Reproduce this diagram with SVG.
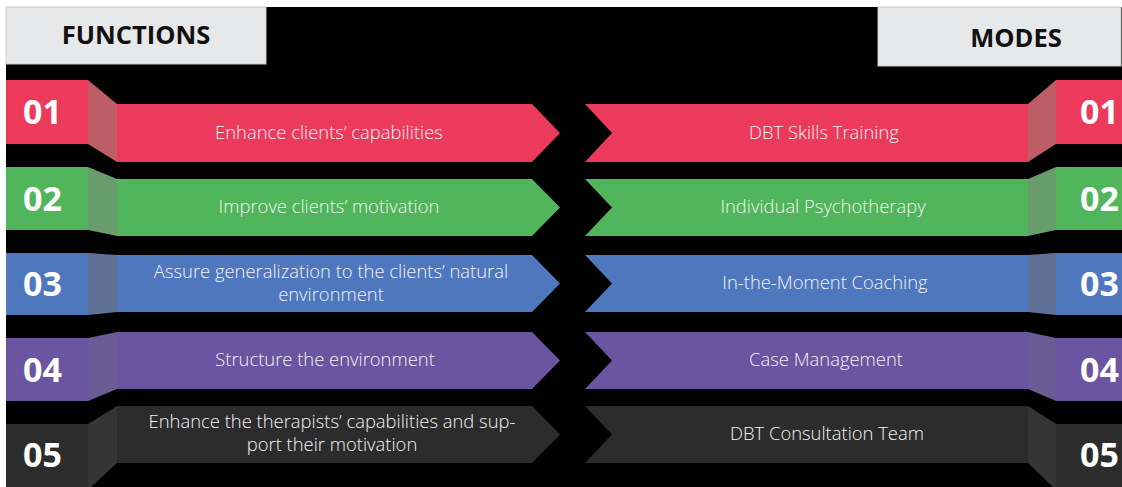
<svg xmlns="http://www.w3.org/2000/svg" width="1122" height="487" viewBox="0 0 1122 487">
<style>
.hdr{fill:#e7e8ea;stroke:#c9cacc;stroke-width:1}
.htxt{font-family:"Open Sans","Liberation Sans",sans-serif;font-weight:bold;font-size:25.5px;fill:#111;text-anchor:middle}
.num{font-family:"Open Sans","Liberation Sans",sans-serif;font-weight:bold;font-size:34px;fill:#fff}
.lbl{font-family:"Open Sans","Liberation Sans",sans-serif;font-weight:300;font-size:18.4px;fill:#f2f2f2;text-anchor:middle}
.r{fill:#ec3a5c}.rc{fill:#bd5e66}
.g{fill:#51b55c}.gc{fill:#699c6d}
.b{fill:#4e77bd}.bc{fill:#5f7296}
.p{fill:#6b54a0}.pc{fill:#6b5b94}
.d{fill:#2c2c2c}.dc{fill:#353535}
</style>
<rect x="0" y="0" width="1122" height="487" fill="#fff"/>
<rect x="6" y="7" width="1116" height="480" fill="#000"/>
<g id="header-functions">
<rect class="hdr" x="6" y="7" width="260" height="57"/>
<text class="htxt" x="136" y="44">FUNCTIONS</text>
</g>
<g id="header-modes">
<rect class="hdr" x="878" y="7" width="243" height="59"/>
<text class="htxt" x="1016" y="47">MODES</text>
</g>
<g id="function-01">
<rect class="r" x="6" y="80" width="82" height="64"/>
<polygon class="rc" points="88,80 117,104 117,162 88,144"/>
<polygon class="r" points="117,104 532,104 560,133 532,162 117,162"/>
<text class="num" x="23" y="124">01</text>
<text class="lbl" x="329" y="139">Enhance clients’ capabilities</text>
</g>
<g id="function-02">
<rect class="g" x="6" y="167" width="82" height="63"/>
<polygon class="gc" points="88,167 117,179 117,236 88,230"/>
<polygon class="g" points="117,179 532,179 560,207.5 532,236 117,236"/>
<text class="num" x="23" y="211">02</text>
<text class="lbl" x="329" y="213">Improve clients’ motivation</text>
</g>
<g id="function-03">
<rect class="b" x="6" y="253" width="82" height="62"/>
<polygon class="bc" points="88,253 117,255 117,312 88,315"/>
<polygon class="b" points="117,255 532,255 560,283.5 532,312 117,312"/>
<text class="num" x="23" y="296">03</text>
<text class="lbl" x="331" y="278">Assure generalization to the clients’ natural</text>
<text class="lbl" x="331" y="301">environment</text>
</g>
<g id="function-04">
<rect class="p" x="6" y="338" width="82" height="63"/>
<polygon class="pc" points="88,338 117,332 117,389 88,401"/>
<polygon class="p" points="117,332 532,332 560,360.5 532,389 117,389"/>
<text class="num" x="23" y="382">04</text>
<text class="lbl" x="325" y="366">Structure the environment</text>
</g>
<g id="function-05">
<rect class="d" x="6" y="424" width="82" height="66"/>
<polygon class="dc" points="88,424 117,406 117,463 88,490"/>
<polygon class="d" points="117,406 532,406 560,434.5 532,463 117,463"/>
<text class="num" x="23" y="467">05</text>
<text class="lbl" x="332" y="428">Enhance the therapists’ capabilities and sup-</text>
<text class="lbl" x="332" y="451">port their motivation</text>
</g>
<g id="mode-01">
<polygon class="r" points="585,104 1028,104 1028,162 585,162 612,133"/>
<polygon class="rc" points="1028,104 1056,80 1056,144 1028,162"/>
<rect class="r" x="1056" y="80" width="66" height="64"/>
<text class="num" x="1080" y="124">01</text>
<text class="lbl" x="824" y="139">DBT Skills Training</text>
</g>
<g id="mode-02">
<polygon class="g" points="585,179 1028,179 1028,236 585,236 612,207.5"/>
<polygon class="gc" points="1028,179 1056,167 1056,230 1028,236"/>
<rect class="g" x="1056" y="167" width="66" height="63"/>
<text class="num" x="1080" y="211">02</text>
<text class="lbl" x="823" y="213">Individual Psychotherapy</text>
</g>
<g id="mode-03">
<polygon class="b" points="585,255 1028,255 1028,312 585,312 612,283.5"/>
<polygon class="bc" points="1028,255 1056,253 1056,315 1028,312"/>
<rect class="b" x="1056" y="253" width="66" height="62"/>
<text class="num" x="1080" y="296">03</text>
<text class="lbl" x="825" y="289">In-the-Moment Coaching</text>
</g>
<g id="mode-04">
<polygon class="p" points="585,332 1028,332 1028,389 585,389 612,360.5"/>
<polygon class="pc" points="1028,332 1056,338 1056,401 1028,389"/>
<rect class="p" x="1056" y="338" width="66" height="63"/>
<text class="num" x="1080" y="382">04</text>
<text class="lbl" x="826" y="366">Case Management</text>
</g>
<g id="mode-05">
<polygon class="d" points="585,406 1028,406 1028,463 585,463 612,434.5"/>
<polygon class="dc" points="1028,406 1056,424 1056,490 1028,463"/>
<rect class="d" x="1056" y="424" width="66" height="66"/>
<text class="num" x="1080" y="467">05</text>
<text class="lbl" x="827" y="440">DBT Consultation Team</text>
</g>
<g id="connectors"></g>
</svg>
